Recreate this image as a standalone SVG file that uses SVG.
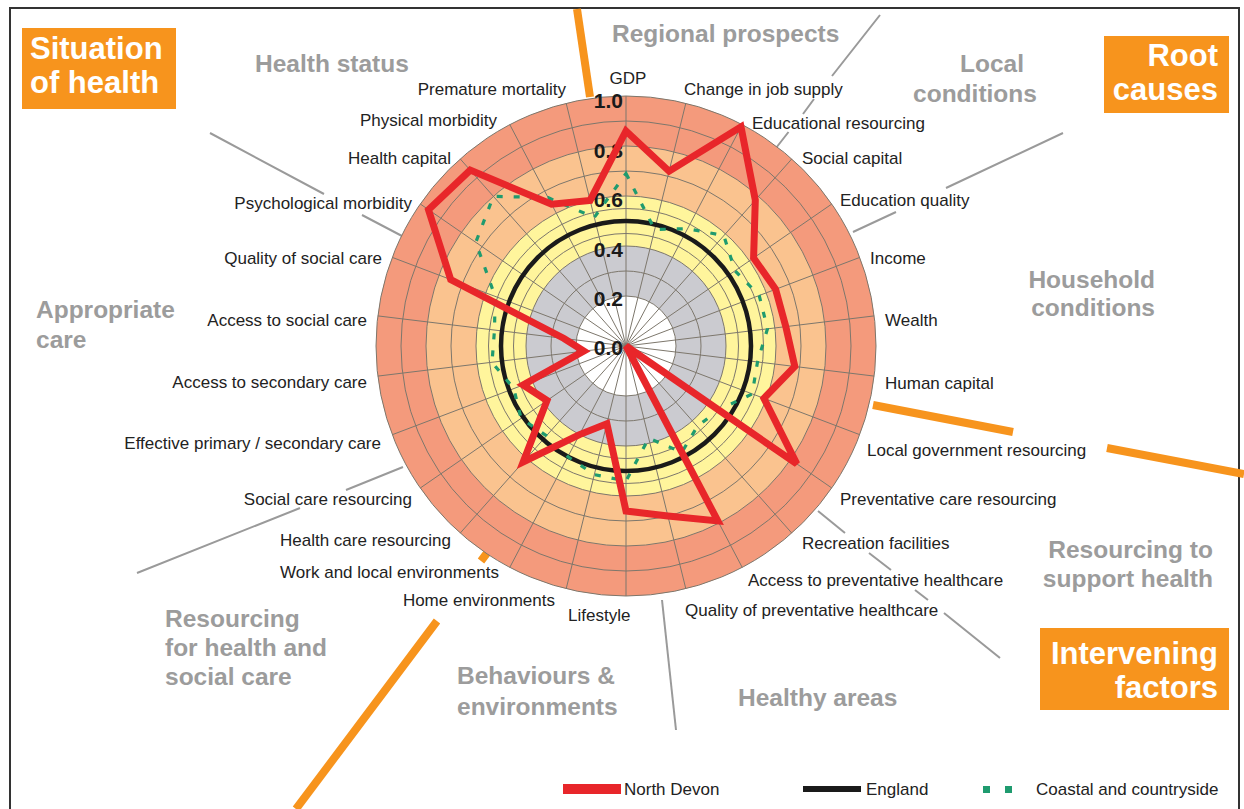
<svg xmlns="http://www.w3.org/2000/svg" width="1244" height="809" viewBox="0 0 1244 809">
<style>
.ax{font-family:"Liberation Sans",Arial,sans-serif;font-size:17px;fill:#222}
.cat{font-family:"Liberation Sans",Arial,sans-serif;font-size:24.5px;font-weight:bold;fill:#9c9c9c}
.box{fill:#F7941D}
.bt{font-family:"Liberation Sans",Arial,sans-serif;font-size:31px;font-weight:bold;fill:#fff}
.tick{font-family:"Liberation Sans",Arial,sans-serif;font-size:21px;font-weight:bold;fill:#1a1a1a;text-anchor:end}
.sep{stroke:#9a9a9a;stroke-width:2;fill:none}
.osep{stroke:#F7941D;stroke-width:8;fill:none}
.grid{stroke:#7d776c;stroke-width:1;fill:none}
.lg{font-family:"Liberation Sans",Arial,sans-serif;font-size:17px;fill:#222}
</style>

<g id="frame">
<path d="M10 809V8H1239V809" fill="none" stroke="#333" stroke-width="2"/>
</g>

<g id="connectors">
<path class="osep" d="M577 9L590 97"/>
<path class="osep" d="M873 405L1013 432M1107 448L1244 474"/>
<path class="osep" d="M487 553L481 561M437 621L296 809"/>
<path class="sep" d="M880 15L832 76M814 99L803 114M788.5 132L776 148"/>
<path class="sep" d="M1063 133L946 188M896 212L853 232"/>
<path class="sep" d="M210 133L324 194M362 215L402 236"/>
<path class="sep" d="M137 573L300 508M346 490L403 467"/>
<path class="sep" d="M818 511L845 533M869 553L891 570M915 590L928 600M944 613L1000 658"/>
<path class="sep" d="M662 600L676 730"/>
</g>

<g id="chart">
<circle cx="626" cy="346" r="250" fill="#F49A7C"/>
<circle cx="626" cy="346" r="200" fill="#FAC38F"/>
<circle cx="626" cy="346" r="150" fill="#FFF59C"/>
<circle cx="626" cy="346" r="100" fill="#CBCBD0"/>
<circle cx="626" cy="346" r="50" fill="#FFFFFF"/>
<g class="grid">
<circle cx="626" cy="346" r="250"/>
<circle cx="626" cy="346" r="225"/>
<circle cx="626" cy="346" r="200"/>
<circle cx="626" cy="346" r="175"/>
<circle cx="626" cy="346" r="150"/>
<circle cx="626" cy="346" r="137.5"/>
<circle cx="626" cy="346" r="112.5"/>
<circle cx="626" cy="346" r="100"/>
<circle cx="626" cy="346" r="75"/>
<circle cx="626" cy="346" r="50"/>
<path d="M626 346L626 96M626 346L685.8 103.3M626 346L742.2 124.6M626 346L791.8 158.9M626 346L831.8 204M626 346L859.8 257.4M626 346L874.2 315.9M626 346L874.2 376.1M626 346L859.8 434.7M626 346L831.8 488M626 346L791.8 533.1M626 346L742.2 567.4M626 346L685.8 588.7M626 346L626 596M626 346L566.2 588.7M626 346L509.8 567.4M626 346L460.2 533.1M626 346L420.3 488M626 346L392.3 434.7M626 346L377.8 376.1M626 346L377.8 315.9M626 346L392.3 257.4M626 346L420.3 204M626 346L460.2 158.9M626 346L509.8 124.6M626 346L566.2 103.3"/>
</g>
<text class="tick" x="623" y="108">1.0</text>
<text class="tick" x="623" y="158">0.8</text>
<text class="tick" x="623" y="207">0.6</text>
<text class="tick" x="623" y="257">0.4</text>
<text class="tick" x="623" y="306">0.2</text>
<text class="tick" x="623" y="355">0.0</text>
</g>

<g id="series">
<circle id="england" cx="626" cy="346" r="125" fill="none" stroke="#1a1a1a" stroke-width="4.5"/>
<polygon id="coastal" fill="none" stroke="#1f9b6f" stroke-width="3.2" stroke-dasharray="6 11" points="626,173.5 654.7,229.5 687.6,228.7 723.8,235.6 735,270.7 759.2,295.5 767.5,328.8 757.5,362 752.2,393.9 718.6,409.9 697.3,426.5 681.8,452.3 648.7,438.2 626,481 594.3,474.6 567.9,456.7 546.4,435.8 521.1,418.4 513.8,388.6 492,362.3 494.5,330 495.1,296.4 475.8,242.3 493.4,196.3 548.2,197.7 594.3,217.4"/>
<polygon id="northdevon" fill="none" stroke="#E8262A" stroke-width="7" stroke-linejoin="miter" stroke-miterlimit="3" points="626,131 669.1,171.2 741,126.8 755.3,200 753.6,257.9 775.6,289.3 785.8,326.6 794.8,366.5 763.9,398.3 796.8,463.9 626,346 717.8,520.9 667.9,515.9 626,511 606.9,423.7 579.5,434.6 523.2,462 547,400.5 523.1,385 583.8,351.1 564,338.5 450.7,279.5 428.5,209.7 470.2,170.1 551.6,204.3 590.1,200.4"/>
</g>

<g id="axis-labels" class="ax">
<text x="628" y="84" text-anchor="middle">GDP</text>
<text x="684" y="95">Change in job supply</text>
<text x="752" y="129">Educational resourcing</text>
<text x="802" y="164">Social capital</text>
<text x="840" y="206">Education quality</text>
<text x="870" y="264">Income</text>
<text x="885" y="326">Wealth</text>
<text x="885" y="389">Human capital</text>
<text x="867" y="456">Local government resourcing</text>
<text x="840" y="505">Preventative care resourcing</text>
<text x="802" y="549">Recreation facilities</text>
<text x="748" y="586">Access to preventative healthcare</text>
<text x="685" y="616">Quality of preventative healthcare</text>
<text x="568" y="621">Lifestyle</text>
<g text-anchor="end">
<text x="555" y="606">Home environments</text>
<text x="499" y="578">Work and local environments</text>
<text x="451" y="546">Health care resourcing</text>
<text x="412" y="505">Social care resourcing</text>
<text x="381" y="449">Effective primary / secondary care</text>
<text x="367" y="388">Access to secondary care</text>
<text x="367" y="326">Access to social care</text>
<text x="382" y="264">Quality of social care</text>
<text x="412" y="209">Psychological morbidity</text>
<text x="451" y="164">Health capital</text>
<text x="497" y="126">Physical morbidity</text>
<text x="566" y="95">Premature mortality</text>
</g>
</g>

<g id="categories" class="cat">
<text x="612" y="42">Regional prospects</text>
<text x="255" y="72">Health status</text>
<text x="992" y="72" text-anchor="middle">Local</text>
<text x="975" y="102" text-anchor="middle">conditions</text>
<text x="1155" y="288" text-anchor="end">Household</text>
<text x="1155" y="316" text-anchor="end">conditions</text>
<text x="36" y="318">Appropriate</text>
<text x="36" y="348">care</text>
<text x="1213" y="558" text-anchor="end">Resourcing to</text>
<text x="1213" y="587" text-anchor="end">support health</text>
<text x="165" y="627">Resourcing</text>
<text x="165" y="656">for health and</text>
<text x="165" y="685">social care</text>
<text x="457" y="684">Behaviours &amp;</text>
<text x="457" y="715">environments</text>
<text x="738" y="706">Healthy areas</text>
</g>

<g id="situation-of-health">
<rect class="box" x="22" y="28" width="154" height="81"/>
<text class="bt" x="30" y="59">Situation</text>
<text class="bt" x="30" y="93">of health</text>
</g>
<g id="root-causes">
<rect class="box" x="1104" y="36" width="125" height="77"/>
<text class="bt" x="1218" y="66" text-anchor="end">Root</text>
<text class="bt" x="1218" y="100" text-anchor="end">causes</text>
</g>
<g id="intervening-factors">
<rect class="box" x="1040" y="628" width="189" height="82"/>
<text class="bt" x="1218" y="664" text-anchor="end">Intervening</text>
<text class="bt" x="1218" y="698" text-anchor="end">factors</text>
</g>

<g id="legend">
<rect x="563" y="784" width="58" height="10" fill="#E8262A"/>
<text class="lg" x="624" y="795">North Devon</text>
<rect x="803" y="786" width="58" height="6" fill="#1a1a1a"/>
<text class="lg" x="866" y="795">England</text>
<rect x="983" y="786" width="7" height="7" fill="#1f9b6f"/>
<rect x="1005" y="786" width="7" height="7" fill="#1f9b6f"/>
<text class="lg" x="1036" y="795">Coastal and countryside</text>
</g>
</svg>
